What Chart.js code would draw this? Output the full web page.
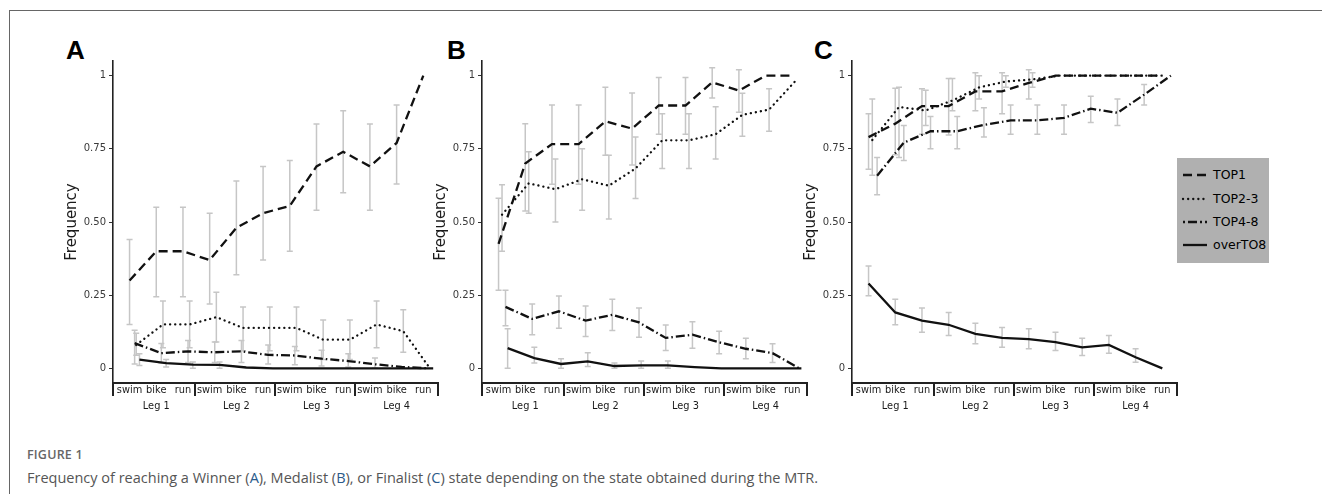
<!DOCTYPE html>
<html>
<head>
<meta charset="utf-8">
<script src="https://cdn.jsdelivr.net/npm/chart.js@4.4.1/dist/chart.umd.min.js"></script>
<style>
  html, body { margin: 0; padding: 0; background: #fff; }
  body { width: 1322px; height: 494px; position: relative; overflow: hidden; font-family: "DejaVu Sans", sans-serif; }
  #frame { position: absolute; left: 9px; top: 10px; width: 1320px; height: 490px; border-top: 1px solid #666; border-left: 1px solid #666; }
  canvas { position: absolute; top: 52px; }
  .tag { position: absolute; font: bold 26px/26px "Liberation Sans", Arial, sans-serif; color: #000; }
  #legend { position: absolute; left: 1177px; top: 158px; width: 92px; height: 105px; background: #b0b0b0; }
  #legend svg { position: absolute; left: 0; top: 0; }
  #legend div { position: absolute; left: 36px; font-size: 12.5px; color: #000; line-height: 14px; }
  #fig { position: absolute; left: 27px; top: 446px; font: 600 12.5px "Open Sans", sans-serif; color: #666; letter-spacing: 0.2px; }
  #cap { position: absolute; left: 27px; top: 468px; font: 14.5px "Open Sans", sans-serif; color: #555; white-space: nowrap; }
  #cap b { font-weight: normal; color: #2a5a8a; }
</style>
</head>
<body>
<div id="frame"></div>
<div class="tag" style="left:66px;top:37px">A</div>
<div class="tag" style="left:447px;top:37px">B</div>
<div class="tag" style="left:814px;top:37px">C</div>
<canvas id="chartA" width="383" height="371" style="left:59px"></canvas>
<canvas id="chartB" width="383" height="371" style="left:428px"></canvas>
<canvas id="chartC" width="383" height="371" style="left:798px"></canvas>
<div id="legend">
  <svg width="36" height="105">
    <line x1="6" y1="17" x2="30" y2="17" stroke="#111" stroke-width="2.3" stroke-dasharray="9 5"/>
    <line x1="6" y1="41" x2="30" y2="41" stroke="#111" stroke-width="2.3" stroke-dasharray="0.1 5" stroke-linecap="round"/>
    <line x1="6" y1="64" x2="30" y2="64" stroke="#111" stroke-width="2.3" stroke-dasharray="2 3 9 3"/>
    <line x1="6" y1="87" x2="30" y2="87" stroke="#111" stroke-width="2.3"/>
  </svg>
  <div style="top:10px">TOP1</div>
  <div style="top:34px">TOP2-3</div>
  <div style="top:57px">TOP4-8</div>
  <div style="top:80px">overTO8</div>
</div>
<div id="fig">FIGURE 1</div>
<div id="cap">Frequency of reaching a Winner (<b>A</b>), Medalist (<b>B</b>), or Finalist (<b>C</b>) state depending on the state obtained during the MTR.</div>

<script>
const legs = ['Leg 1', 'Leg 2', 'Leg 3', 'Leg 4'];
const stages = ['swim', 'bike', 'run'];
const seriesNames = ['TOP1', 'TOP2-3', 'TOP4-8', 'overTO8'];
const yTicks = [0, 0.25, 0.5, 0.75, 1];
const yTickLabels = ['0', '0.25', '0.50', '0.75', '1'];

// A - Winner
const winTop1   = [0.30, 0.40, 0.40, 0.37, 0.48, 0.53, 0.555, 0.69, 0.74, 0.69, 0.77, 1.0];
const winTop1Lo = [0.15, 0.245, 0.245, 0.22, 0.32, 0.37, 0.40, 0.54, 0.60, 0.54, 0.63, null];
const winTop1Hi = [0.44, 0.55, 0.55, 0.53, 0.64, 0.69, 0.71, 0.835, 0.88, 0.835, 0.90, null];
const winTop23   = [0.08, 0.15, 0.15, 0.175, 0.138, 0.138, 0.138, 0.098, 0.098, 0.15, 0.127, 0];
const winTop23Lo = [0.045, 0.07, 0.07, 0.09, 0.06, 0.06, 0.06, 0.03, 0.03, 0.07, 0.055, null];
const winTop23Hi = [0.12, 0.23, 0.23, 0.26, 0.21, 0.21, 0.21, 0.165, 0.165, 0.23, 0.20, null];
const winTop48   = [0.086, 0.052, 0.058, 0.055, 0.058, 0.046, 0.044, 0.033, 0.025, 0.014, 0.005, 0];
const winTop48Lo = [0.015, 0.018, 0.02, 0.02, 0.02, 0.015, 0.012, 0.008, 0.005, 0.0, null, null];
const winTop48Hi = [0.13, 0.085, 0.095, 0.09, 0.095, 0.08, 0.075, 0.062, 0.05, 0.035, null, null];
const winOver8   = [0.03, 0.018, 0.013, 0.012, 0.003, 0, 0, 0, 0, 0, 0, 0];
const winOver8Lo = [0.01, 0.005, 0.0, 0.0, null, null, null, null, null, null, null, null];
const winOver8Hi = [0.05, 0.03, 0.022, 0.022, null, null, null, null, null, null, null, null];

// B - Medalist
const medTop1   = [0.425, 0.70, 0.766, 0.766, 0.844, 0.819, 0.898, 0.898, 0.977, 0.949, 1.0, 1.0];
const medTop1Lo = [0.267, 0.538, 0.629, 0.629, 0.728, 0.695, 0.80, 0.80, 0.924, 0.875, null, null];
const medTop1Hi = [0.581, 0.836, 0.90, 0.90, 0.96, 0.941, 0.994, 0.994, 1.027, 1.02, null, null];
const medTop23   = [0.525, 0.632, 0.612, 0.646, 0.624, 0.683, 0.779, 0.779, 0.80, 0.866, 0.884, 0.983];
const medTop23Lo = [0.40, 0.53, 0.50, 0.54, 0.51, 0.58, 0.683, 0.683, 0.715, 0.793, 0.81, null];
const medTop23Hi = [0.627, 0.74, 0.715, 0.75, 0.728, 0.79, 0.87, 0.87, 0.894, 0.94, 0.955, null];
const medTop48   = [0.21, 0.169, 0.195, 0.163, 0.183, 0.157, 0.104, 0.115, 0.089, 0.067, 0.052, 0];
const medTop48Lo = [0.146, 0.115, 0.137, 0.109, 0.129, 0.106, 0.061, 0.069, 0.05, 0.033, 0.02, null];
const medTop48Hi = [0.267, 0.22, 0.247, 0.213, 0.236, 0.206, 0.148, 0.159, 0.127, 0.103, 0.084, null];
const medOver8   = [0.069, 0.035, 0.015, 0.024, 0.008, 0.01, 0.01, 0.004, 0, 0, 0, 0];
const medOver8Lo = [0.0, 0.018, 0.0, 0.006, 0.0, 0.0, 0.0, null, null, null, null, null];
const medOver8Hi = [0.135, 0.072, 0.033, 0.053, 0.018, 0.025, 0.025, null, null, null, null, null];

// C - Finalist
const finTop1   = [0.79, 0.836, 0.896, 0.896, 0.946, 0.946, 0.975, 1, 1, 1, 1, 1];
const finTop1Lo = [0.68, 0.73, 0.80, 0.797, 0.88, 0.87, 0.92, null, null, null, null, null];
const finTop1Hi = [0.87, 0.957, 0.955, 0.99, 1.01, 1.01, 1.02, null, null, null, null, null];
const finTop23   = [0.78, 0.893, 0.881, 0.915, 0.96, 0.98, 0.987, 1, 1, 1, 1, 1];
const finTop23Lo = [0.66, 0.72, 0.83, 0.88, 0.92, 0.96, 0.96, null, null, null, null, null];
const finTop23Hi = [0.92, 0.96, 0.95, 0.99, 1.0, 1.0, 1.01, null, null, null, null, null];
const finTop48   = [0.658, 0.771, 0.81, 0.81, 0.832, 0.847, 0.847, 0.856, 0.887, 0.873, 0.935, 1.0];
const finTop48Lo = [0.593, 0.71, 0.75, 0.75, 0.79, 0.80, 0.80, 0.80, 0.84, 0.83, 0.90, null];
const finTop48Hi = [0.72, 0.83, 0.86, 0.86, 0.89, 0.90, 0.90, 0.90, 0.93, 0.92, 0.97, null];
const finOver8   = [0.29, 0.191, 0.163, 0.149, 0.118, 0.104, 0.10, 0.09, 0.072, 0.08, 0.038, 0.0];
const finOver8Lo = [0.248, 0.149, 0.123, 0.112, 0.084, 0.072, 0.067, 0.061, 0.044, 0.052, 0.021, null];
const finOver8Hi = [0.35, 0.236, 0.206, 0.191, 0.154, 0.14, 0.135, 0.123, 0.103, 0.112, 0.067, null];

// line look per series
const dashes = [[9, 5], [0.1, 5], [9, 3, 1.5, 3], []];
const caps = ['butt', 'round', 'butt', 'butt'];

// x tick labels: swim / bike (+ leg name under it) / run
const xLabels = [];
legs.forEach(leg => stages.forEach(s => xLabels.push(s === 'bike' ? [s, leg] : s)));

const errorBars = {
  id: 'errorBars',
  beforeDatasetsDraw(chart) {
    const { ctx, scales: { x, y } } = chart;
    ctx.save();
    ctx.strokeStyle = '#c6c6c6';
    ctx.lineWidth = 1.5;
    chart.data.datasets.forEach(ds => {
      ds.data.forEach(p => {
        if (p.lo == null) return;
        const px = x.getPixelForValue(p.x);
        const y1 = y.getPixelForValue(p.lo), y2 = y.getPixelForValue(p.hi);
        ctx.beginPath();
        ctx.moveTo(px, y1); ctx.lineTo(px, y2);
        ctx.moveTo(px - 3, y1); ctx.lineTo(px + 3, y1);
        ctx.moveTo(px - 3, y2); ctx.lineTo(px + 3, y2);
        ctx.stroke();
      });
    });
    ctx.restore();
  }
};

// vertical separators between the legs below the x axis
const legBrackets = {
  id: 'legBrackets',
  afterDraw(chart) {
    const { ctx, scales: { x } } = chart;
    const bottom = chart.chartArea.bottom;
    ctx.save();
    ctx.strokeStyle = '#222';
    ctx.lineWidth = 2;
    [x.min, 2.45, 5.45, 8.45, x.max].forEach(v => {
      const px = Math.round(x.getPixelForValue(v));
      ctx.beginPath();
      ctx.moveTo(px, bottom - 1);
      ctx.lineTo(px, bottom + 13);
      ctx.stroke();
    });
    ctx.restore();
  }
};

function makeChart(id, series, dodge) {
  const datasets = series.map((s, k) => ({
    label: seriesNames[k],
    data: s[0].map((v, i) => ({ x: i + dodge[k], y: v, lo: s[1][i], hi: s[2][i] })),
    borderColor: '#111',
    borderWidth: 2.3,
    borderDash: dashes[k],
    borderCapStyle: caps[k],
    pointRadius: 0,
    tension: 0,
    fill: false
  }));

  new Chart(document.getElementById(id), {
    type: 'line',
    data: { datasets },
    options: {
      responsive: false,
      animation: false,
      devicePixelRatio: 1,
      layout: { padding: { top: 6, right: 4, left: 0, bottom: 0 } },
      plugins: { legend: { display: false }, tooltip: { enabled: false } },
      scales: {
        x: {
          type: 'linear',
          min: -0.62,
          max: 11.55,
          afterBuildTicks: s => { s.ticks = xLabels.map((_, i) => ({ value: i })); },
          afterFit: s => { s.height = 40; },
          grid: { display: false, drawTicks: false },
          border: { display: true, color: '#222', width: 2 },
          ticks: {
            autoSkip: false, maxRotation: 0, padding: 0,
            color: '#1a1a1a',
            font: { family: 'DejaVu Sans', size: 9.8, lineHeight: 1.6 },
            callback: (v, i) => xLabels[i]
          }
        },
        y: {
          min: -0.05,
          max: 1.05,
          afterBuildTicks: s => { s.ticks = yTicks.map(v => ({ value: v })); },
          afterFit: s => { s.width = 54; },
          grid: { drawOnChartArea: false, drawTicks: true, tickLength: 4, color: '#333' },
          border: { display: true, color: '#222', width: 1.6 },
          ticks: {
            padding: 3,
            color: '#3a3a3a',
            font: { family: 'DejaVu Sans', size: 10 },
            callback: (v, i) => yTickLabels[i]
          },
          title: {
            display: true,
            text: 'Frequency',
            color: '#1a1a1a',
            font: { family: 'DejaVu Sans', size: 15 }
          }
        }
      }
    },
    plugins: [errorBars, legBrackets]
  });
}

makeChart('chartA', [
  [winTop1, winTop1Lo, winTop1Hi],
  [winTop23, winTop23Lo, winTop23Hi],
  [winTop48, winTop48Lo, winTop48Hi],
  [winOver8, winOver8Lo, winOver8Hi]
], [0, 0.25, 0.19, 0.37]);

makeChart('chartB', [
  [medTop1, medTop1Lo, medTop1Hi],
  [medTop23, medTop23Lo, medTop23Hi],
  [medTop48, medTop48Lo, medTop48Hi],
  [medOver8, medOver8Lo, medOver8Hi]
], [0, 0.13, 0.26, 0.34]);

makeChart('chartC', [
  [finTop1, finTop1Lo, finTop1Hi],
  [finTop23, finTop23Lo, finTop23Hi],
  [finTop48, finTop48Lo, finTop48Hi],
  [finOver8, finOver8Lo, finOver8Hi]
], [0, 0.14, 0.32, 0]);
</script>
</body>
</html>
